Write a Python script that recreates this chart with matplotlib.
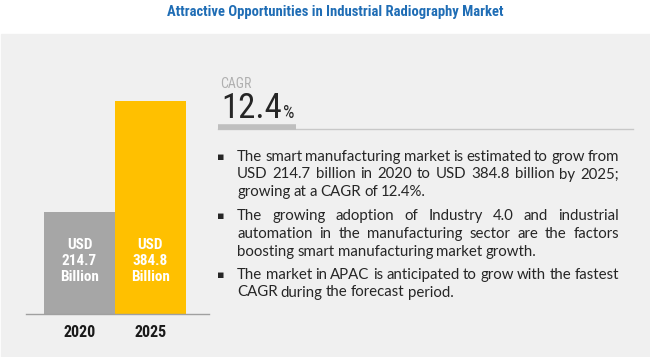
import matplotlib
matplotlib.use("Agg")
import matplotlib.pyplot as plt
import matplotlib.transforms as mtransforms
from matplotlib import font_manager

# data
years = ["2020", "2025"]
market_size = [214.7, 384.8]
bar_colors = ["#a6a6a6", "#ffc000"]
cagr = "12.4"
title = "Attractive Opportunities in Industrial Radiography Market"
bullets = [
    ["The smart manufacturing market is estimated to grow from",
     "USD 214.7 billion in 2020 to USD  384.8 billion by 2025;",
     "growing  at a CAGR of 12.4%."],
    ["The growing adoption of Industry 4.0 and industrial",
     "automation in the manufacturing  sector are the factors",
     "boosting smart manufacturing market growth."],
    ["The market in APAC is anticipated to grow with the fastest",
     "CAGR during the forecast period."],
]


def pick(*names):
    have = {f.name for f in font_manager.fontManager.ttflist}
    for n in names:
        if n in have:
            return n
    return "DejaVu Sans"


narrow = pick("Liberation Sans Narrow", "Roboto Condensed", "Liberation Sans")
body = pick("Lato", "Open Sans", "DejaVu Sans")

W, H = 650, 357
fig = plt.figure(figsize=(W / 100, H / 100), dpi=100)
fig.patch.set_facecolor("white")


def fx(px):
    return px / W


def fy(py):
    # py measured from top
    return 1 - py / H


# gray panel
fig.patches.append(plt.Rectangle((fx(1), 0), 1, fy(34), transform=fig.transFigure,
                                 color="#f0f0f0", zorder=-5))

fig.text(fx(335), fy(12), title, ha="center", va="center", color="#1f6db5",
         fontsize=10.5, fontweight="bold", family=narrow)

# bars
ax = fig.add_axes([fx(26), fy(314), fx(209 - 26), (314 - 101) / H])
ax.set_facecolor("none")
ax.bar(range(len(years)), market_size, width=1.0, color=bar_colors, zorder=2)
ax.set_xlim(-0.5 - 18 / 71, 1.5 + 23 / 71)
ax.set_ylim(58.6, 384.8)
for s in ["top", "right", "left"]:
    ax.spines[s].set_visible(False)
ax.spines["bottom"].set_color("#a0a0a0")
ax.spines["bottom"].set_linewidth(1)
ax.set_yticks([])
ax.set_xticks(range(len(years)))
ax.set_xticklabels(years, fontsize=11.5, fontweight="bold", family=narrow, color="#1a1a1a")
ax.tick_params(axis="x", length=0, pad=8)

blend = mtransforms.blended_transform_factory(ax.transData, fig.transFigure)
for i, v in enumerate(market_size):
    ax.text(i, fy(261), "USD\n%.1f\nBillion" % v, transform=blend, ha="center",
            va="center", color="white", fontsize=11, family=narrow,
            fontweight="bold", linespacing=1.2, zorder=3)

# CAGR block
fig.text(fx(220), fy(84), "CAGR", ha="left", va="center", color="#b0b0b0",
         fontsize=10, family=narrow)
t = fig.text(fx(221), fy(118.5), cagr, ha="left", va="baseline", color="#262626",
             fontsize=25, family=narrow)
fig.canvas.draw()
r = fig.canvas.get_renderer()
bb = t.get_window_extent(r)
fig.text(bb.x1 / W + fx(1), fy(118.5), "%", ha="left", va="baseline", color="#262626",
         fontsize=13, family=narrow)
fig.add_artist(plt.Line2D([fx(218), fx(633)], [fy(129), fy(129)], color="#c8c8c8",
                          lw=1, transform=fig.transFigure))
fig.add_artist(plt.Line2D([fx(218), fx(296)], [fy(127), fy(127)], color="#bfbfbf",
                          lw=4, transform=fig.transFigure, solid_capstyle="butt"))

# bullets, justified
fs = 10.8
line_y = [[157, 174.5, 192], [216, 234, 252], [275, 292.5]]
x0, x1 = 237, 619
for para, ys in zip(bullets, line_y):
    fig.text(fx(221), fy(ys[0]), "\u25aa", ha="center", va="center", color="#262626",
             fontsize=8, family="DejaVu Sans")
    for k, (line, y) in enumerate(zip(para, ys)):
        words = line.split()
        objs = [fig.text(0, fy(y), w_, ha="left", va="center", color="#262626",
                         fontsize=fs, family=body) for w_ in words]
        widths = [o.get_window_extent(r).width for o in objs]
        last = k == len(para) - 1
        if last or len(words) < 2:
            g = 3.2
        else:
            g = (x1 - x0 - sum(widths)) / (len(words) - 1)
        x = x0
        for o, wd in zip(objs, widths):
            o.set_x(fx(x))
            x += wd + g

fig.savefig("out.png", dpi=100)
